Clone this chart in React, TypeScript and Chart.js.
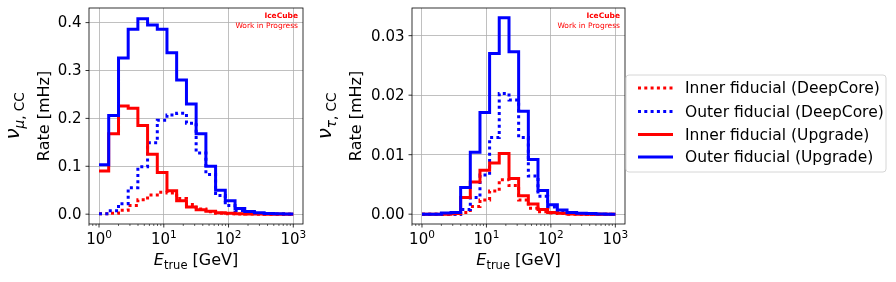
import React, { useEffect, useRef } from "react";
import { Chart, registerables } from "chart.js";

Chart.register(...registerables);

// ---- data ----
const binEdges = [1, 1.41, 2, 2.82, 3.98, 5.62, 7.94, 11.2, 15.8, 22.4, 31.6, 44.7, 63.1, 89.1, 126, 178, 251, 355, 501, 708, 1000];

const seriesLabels = [
  "Inner fiducial (DeepCore)",
  "Outer fiducial (DeepCore)",
  "Inner fiducial (Upgrade)",
  "Outer fiducial (Upgrade)",
];

// nu_mu CC panel (rate in mHz per energy bin)
const numuInnerDeepCore = [0.0007, 0.002, 0.008, 0.018, 0.03, 0.04, 0.046, 0.044, 0.033, 0.02, 0.011, 0.005, 0.002, 0.001, 0.0005, 0.0002, 0.0001, 0, 0, 0];
const numuOuterDeepCore = [0.001, 0.007, 0.022, 0.055, 0.099, 0.149, 0.196, 0.207, 0.211, 0.19, 0.128, 0.083, 0.039, 0.018, 0.007, 0.003, 0.0015, 0.0007, 0.0003, 0.0001];
const numuInnerUpgrade = [0.09, 0.168, 0.226, 0.221, 0.185, 0.125, 0.087, 0.049, 0.028, 0.015, 0.009, 0.006, 0.003, 0.002, 0.001, 0.0005, 0.0002, 0, 0, 0];
const numuOuterUpgrade = [0.103, 0.206, 0.326, 0.386, 0.408, 0.395, 0.386, 0.337, 0.28, 0.23, 0.168, 0.1, 0.05, 0.028, 0.012, 0.0055, 0.003, 0.0015, 0.0008, 0.0004];

// nu_tau CC panel
const nutauInnerDeepCore = [0, 0, 0, 0, 0.0003, 0.0013, 0.0024, 0.0039, 0.0058, 0.0048, 0.0024, 0.001, 0.0004, 0.0002, 0.0001, 0, 0, 0, 0, 0];
const nutauOuterDeepCore = [0, 0, 0, 0, 0.0008, 0.0028, 0.0066, 0.0129, 0.0203, 0.0192, 0.0129, 0.0064, 0.003, 0.0012, 0.0005, 0.0002, 0.0001, 0, 0, 0];
const nutauInnerUpgrade = [0, 0, 0, 0.0001, 0.0028, 0.0054, 0.0074, 0.0086, 0.0102, 0.006, 0.0031, 0.0017, 0.0008, 0.0003, 0.00015, 0.00005, 0, 0, 0, 0];
const nutauOuterUpgrade = [0, 0, 0.0002, 0.0003, 0.0045, 0.0104, 0.0171, 0.027, 0.033, 0.0273, 0.0173, 0.0092, 0.004, 0.0016, 0.0007, 0.0003, 0.00015, 0.0001, 0.00005, 0];

const numuYTicks = [0, 0.1, 0.2, 0.3, 0.4];
const nutauYTicks = [0, 0.01, 0.02, 0.03];
const xTickValues = [1, 10, 100, 1000];
const xTickExponents = ["0", "1", "2", "3"];

// ---- styles ----
const RED = "#ff0000";
const BLUE = "#0000ff";
const seriesColors = [RED, BLUE, RED, BLUE];
const seriesDotted = [true, true, false, false];
const DOT = [3, 3.3];
const FONT = "'DejaVu Sans', 'Noto Sans', sans-serif";

function toSteps(values: number[]) {
  const pts = values.map((v, i) => ({ x: binEdges[i], y: v }));
  pts.push({ x: binEdges[binEdges.length - 1], y: values[values.length - 1] });
  return pts;
}

type PanelCfg = {
  series: number[][];
  yTicks: number[];
  yDigits: number;
  yMin: number;
  yMax: number;
  nuSub: string;
  rateX: number;
  nuX: number;
  legend: boolean;
};

function makePlugin(cfg: PanelCfg) {
  return {
    id: "mplDecor",
    afterDraw(chart: any) {
      const ctx: CanvasRenderingContext2D = chart.ctx;
      const a = chart.chartArea;
      const xs = chart.scales.x;
      const ys = chart.scales.y;
      ctx.save();
      // frame
      ctx.strokeStyle = "#000";
      ctx.lineWidth = 0.8;
      ctx.strokeRect(a.left, a.top, a.right - a.left, a.bottom - a.top);
      // x major ticks + labels
      ctx.fillStyle = "#000";
      xTickValues.forEach((v, i) => {
        const px = xs.getPixelForValue(v);
        ctx.beginPath();
        ctx.lineWidth = 0.8;
        ctx.moveTo(px, a.bottom);
        ctx.lineTo(px, a.bottom + 3.5);
        ctx.stroke();
        ctx.font = `15px ${FONT}`;
        const wb = ctx.measureText("10").width;
        ctx.font = `10.5px ${FONT}`;
        const ws = ctx.measureText(xTickExponents[i]).width;
        const start = px - (wb + ws) / 2;
        ctx.textAlign = "left";
        ctx.textBaseline = "alphabetic";
        ctx.font = `15px ${FONT}`;
        ctx.fillText("10", start, 244);
        ctx.font = `10.5px ${FONT}`;
        ctx.fillText(xTickExponents[i], start + wb, 237.5);
      });
      // x minor ticks
      for (let d = -1; d <= 3; d++) {
        for (let m = 2; m <= 9; m++) {
          const v = m * Math.pow(10, d);
          if (v < xs.min || v > xs.max) continue;
          const px = xs.getPixelForValue(v);
          ctx.beginPath();
          ctx.lineWidth = 0.6;
          ctx.moveTo(px, a.bottom);
          ctx.lineTo(px, a.bottom + 2);
          ctx.stroke();
        }
      }
      // y ticks + labels
      cfg.yTicks.forEach((v) => {
        const py = ys.getPixelForValue(v);
        ctx.beginPath();
        ctx.lineWidth = 0.8;
        ctx.moveTo(a.left, py);
        ctx.lineTo(a.left - 3.5, py);
        ctx.stroke();
        ctx.font = `15px ${FONT}`;
        ctx.textAlign = "right";
        ctx.textBaseline = "middle";
        ctx.fillText(v.toFixed(cfg.yDigits), a.left - 7.5, py + 1);
      });
      const cy = (a.top + a.bottom) / 2;
      const cx = (a.left + a.right) / 2;
      // y label
      ctx.save();
      ctx.translate(cfg.rateX, cy);
      ctx.rotate(-Math.PI / 2);
      ctx.font = `16px ${FONT}`;
      ctx.textAlign = "center";
      ctx.textBaseline = "middle";
      ctx.fillText("Rate [mHz]", 0, 0);
      ctx.restore();
      // nu label (rotated mathtext)
      ctx.save();
      ctx.translate(cfg.nuX, cy);
      ctx.rotate(-Math.PI / 2);
      ctx.textAlign = "left";
      ctx.textBaseline = "alphabetic";
      const fNu = `oblique 20px ${FONT}`;
      const fSubI = `oblique 13.5px ${FONT}`;
      const fSub = `13.5px ${FONT}`;
      ctx.font = fNu;
      const wNu = ctx.measureText("ν").width;
      ctx.font = fSubI;
      const wS1 = ctx.measureText(cfg.nuSub).width;
      ctx.font = fSub;
      const wS2 = ctx.measureText(", CC").width;
      const tot = wNu + wS1 + wS2;
      let x0 = -tot / 2;
      const base = 6;
      ctx.font = fNu;
      ctx.fillText("ν", x0, base);
      x0 += wNu;
      ctx.font = fSubI;
      ctx.fillText(cfg.nuSub, x0, base + 4.5);
      x0 += wS1;
      ctx.font = fSub;
      ctx.fillText(", CC", x0, base + 4.5);
      ctx.restore();
      // x label
      ctx.font = `oblique 16px ${FONT}`;
      const wE = ctx.measureText("E").width;
      ctx.font = `11.5px ${FONT}`;
      const wT = ctx.measureText("true").width;
      ctx.font = `16px ${FONT}`;
      const wG = ctx.measureText(" [GeV]").width;
      let xx = cx - (wE + wT + wG) / 2;
      ctx.textAlign = "left";
      ctx.textBaseline = "alphabetic";
      ctx.font = `oblique 16px ${FONT}`;
      ctx.fillText("E", xx, 265);
      xx += wE;
      ctx.font = `11.5px ${FONT}`;
      ctx.fillText("true", xx, 268.5);
      xx += wT;
      ctx.font = `16px ${FONT}`;
      ctx.fillText(" [GeV]", xx, 265);
      // IceCube watermark
      ctx.fillStyle = RED;
      ctx.textAlign = "right";
      ctx.font = `bold 7.5px ${FONT}`;
      ctx.fillText("IceCube", a.right - 5, 18.3);
      ctx.font = `7.5px ${FONT}`;
      ctx.fillText("Work in Progress", a.right - 5, 28.3);
      // legend
      if (cfg.legend) {
        const lx = 316, ly = 75, lw = 260, lh = 97;
        ctx.fillStyle = "rgba(255,255,255,0.8)";
        ctx.strokeStyle = "#cccccc";
        ctx.lineWidth = 0.8;
        ctx.beginPath();
        const r = 3;
        ctx.moveTo(lx + r, ly);
        ctx.lineTo(lx + lw - r, ly);
        ctx.quadraticCurveTo(lx + lw, ly, lx + lw, ly + r);
        ctx.lineTo(lx + lw, ly + lh - r);
        ctx.quadraticCurveTo(lx + lw, ly + lh, lx + lw - r, ly + lh);
        ctx.lineTo(lx + r, ly + lh);
        ctx.quadraticCurveTo(lx, ly + lh, lx, ly + lh - r);
        ctx.lineTo(lx, ly + r);
        ctx.quadraticCurveTo(lx, ly, lx + r, ly);
        ctx.closePath();
        ctx.fill();
        ctx.stroke();
        const rows = [88, 111.5, 134.5, 157];
        seriesLabels.forEach((lab, i) => {
          const y = rows[i];
          ctx.beginPath();
          ctx.strokeStyle = seriesColors[i];
          ctx.lineWidth = 3;
          ctx.setLineDash(seriesDotted[i] ? DOT : []);
          ctx.lineCap = "butt";
          ctx.moveTo(328, y);
          ctx.lineTo(363, y);
          ctx.stroke();
          ctx.setLineDash([]);
          ctx.fillStyle = "#000";
          ctx.font = `15.5px ${FONT}`;
          ctx.textAlign = "left";
          ctx.textBaseline = "middle";
          ctx.fillText(lab, 375, y + 1);
        });
      }
      ctx.restore();
    },
  };
}

function Panel(props: { cfg: PanelCfg; width: number; left: number; padLeft: number; padRight: number }) {
  const ref = useRef<HTMLCanvasElement | null>(null);
  const { cfg, width, left, padLeft, padRight } = props;
  useEffect(() => {
    if (!ref.current) return;
    const datasets = cfg.series.map((vals, i) => ({
      label: seriesLabels[i],
      data: toSteps(vals),
      borderColor: seriesColors[i],
      backgroundColor: seriesColors[i],
      borderWidth: 3,
      borderDash: seriesDotted[i] ? DOT : [],
      borderCapStyle: "butt" as const,
      borderJoinStyle: "miter" as const,
      stepped: true,
      pointRadius: 0,
      fill: false,
      order: 3 - i,
    }));
    const chart = new Chart(ref.current, {
      type: "line",
      data: { datasets },
      options: {
        animation: false,
        responsive: false,
        devicePixelRatio: 1,
        layout: { padding: { left: padLeft, right: padRight, top: 8, bottom: 58 } },
        plugins: { legend: { display: false }, tooltip: { enabled: false } },
        scales: {
          x: {
            type: "logarithmic",
            min: Math.pow(10, -0.15),
            max: Math.pow(10, 3.15),
            afterBuildTicks: (s: any) => {
              s.ticks = xTickValues.map((v) => ({ value: v }));
            },
            ticks: { display: false },
            grid: { color: "#b0b0b0", lineWidth: 0.8, drawTicks: false },
            border: { display: false },
          },
          y: {
            type: "linear",
            min: cfg.yMin,
            max: cfg.yMax,
            afterBuildTicks: (s: any) => {
              s.ticks = cfg.yTicks.map((v) => ({ value: v }));
            },
            ticks: { display: false },
            grid: { color: "#b0b0b0", lineWidth: 0.8, drawTicks: false },
            border: { display: false },
          },
        },
      },
      plugins: [makePlugin(cfg)],
    } as any);
    return () => chart.destroy();
  }, []);
  return (
    <canvas
      ref={ref}
      width={width}
      height={282}
      style={{ position: "absolute", left, top: 0, width, height: 282 }}
    />
  );
}

const numuCfg: PanelCfg = {
  series: [numuInnerDeepCore, numuOuterDeepCore, numuInnerUpgrade, numuOuterUpgrade],
  yTicks: numuYTicks,
  yDigits: 1,
  yMin: -0.0205,
  yMax: 0.4305,
  nuSub: "μ",
  rateX: 45,
  nuX: 13,
  legend: false,
};

const nutauCfg: PanelCfg = {
  series: [nutauInnerDeepCore, nutauOuterDeepCore, nutauInnerUpgrade, nutauOuterUpgrade],
  yTicks: nutauYTicks,
  yDigits: 2,
  yMin: -0.00165,
  yMax: 0.03465,
  nuSub: "τ",
  rateX: 47,
  nuX: 15,
  legend: true,
};

export default function App() {
  return (
    <div style={{ position: "fixed", left: 0, top: 0, width: 896, height: 282, background: "#fff" }}>
      <Panel cfg={numuCfg} width={310} left={0} padLeft={89} padRight={7} />
      <Panel cfg={nutauCfg} width={586} left={310} padLeft={102} padRight={271} />
    </div>
  );
}
